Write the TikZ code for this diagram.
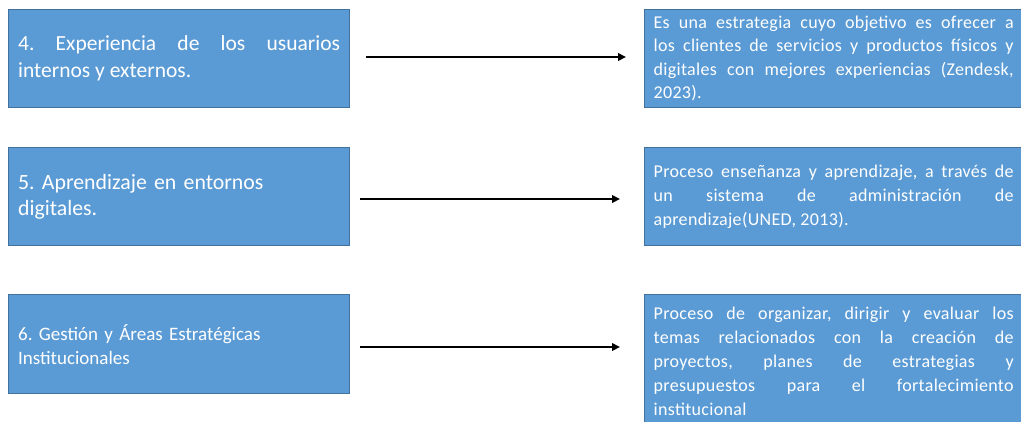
\documentclass[tikz,border=0pt]{standalone}
\usepackage{fontspec}
\setmainfont{Carlito}
\newfontfamily\rfont[LetterSpace=1.8]{Carlito}
\newcommand\rspacing{\spaceskip=0.24em plus 0.4em minus 0.13em\relax}
\usetikzlibrary{arrows.meta}
\definecolor{boxfill}{HTML}{5B9BD5}
\definecolor{boxline}{HTML}{41719C}
\frenchspacing
\begin{document}
\begin{tikzpicture}[x=1pt,y=-1pt,
  box/.style={draw=boxline, fill=boxfill, line width=1.3pt, text=white, inner sep=0pt, anchor=north west},
  lbox/.style={box, minimum width=341pt, minimum height=98pt, text width=322pt},
  rbox/.style={box, minimum height=98pt, text width=360pt, inner xsep=9pt, align=justify,
    font=\rfont\fontsize{18}{24}\selectfont},
  conn/.style={line width=2.4pt, -{Triangle[length=8pt,width=7.5pt]}}]
\useasboundingbox (0,0) rectangle (1021,421);

\node[lbox, align=justify, font=\fontsize{21.5}{27}\selectfont] (l4) at (8,9)
  {4. Experiencia de los usuarios\linebreak internos y externos.};
\node[lbox, align=left, font=\fontsize{21.8}{26}\selectfont] (l5) at (8,147)
  {5. Aprendizaje en entornos\\digitales.};
\node[lbox, align=left, minimum height=99pt, font=\fontsize{19}{24}\selectfont] (l6) at (8,294)
  {6. Gestión y Áreas Estratégicas\\Institucionales};

\node[rbox, font=\rfont\fontsize{18}{23.5}\selectfont] (r4) at (644,9)
  {\rspacing Es una estrategia cuyo objetivo es ofrecer a\linebreak los clientes de servicios y productos físicos y\linebreak digitales con mejores experiencias (Zendesk,\linebreak 2023).};
\node[rbox] (r5) at (644,147)
  {\rspacing Proceso enseñanza y aprendizaje, a través de\linebreak un sistema de administración de\linebreak aprendizaje(UNED, 2013).};
\node[rbox, minimum height=134pt] (r6) at (644,294)
  {\rspacing Proceso de organizar, dirigir y evaluar los\linebreak temas relacionados con la creación de\linebreak proyectos, planes de estrategias y\linebreak presupuestos para el fortalecimiento\linebreak institucional};

\coordinate (a1s) at (366,57);
\coordinate (a1e) at (626,57);
\coordinate (a2s) at (360,199);
\coordinate (a2e) at (620,199);
\coordinate (a3s) at (360,347);
\coordinate (a3e) at (620,347);
\draw[conn] (a1s) -- (a1e);
\draw[conn] (a2s) -- (a2e);
\draw[conn] (a3s) -- (a3e);
\end{tikzpicture}
\end{document}
